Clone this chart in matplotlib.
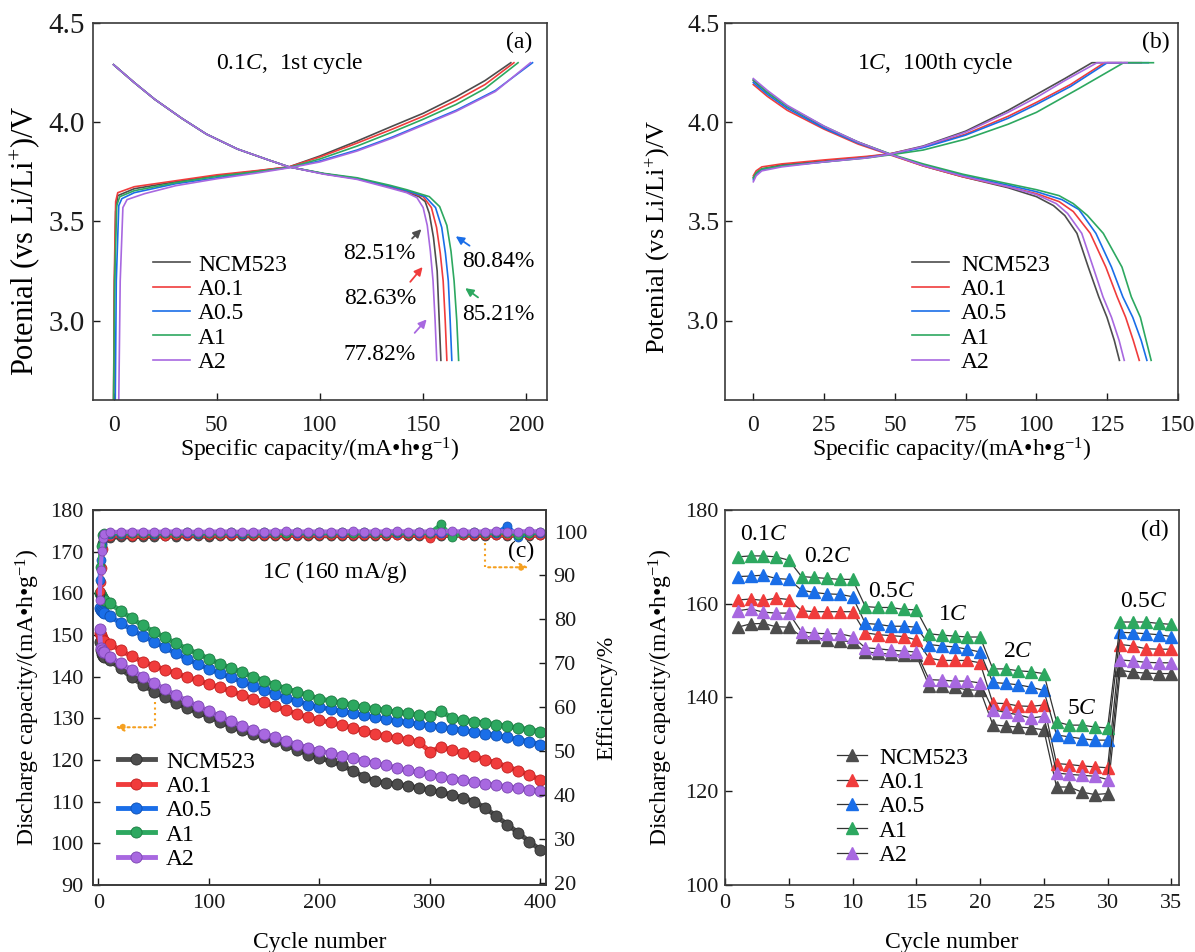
import matplotlib
matplotlib.use('Agg')
import matplotlib.pyplot as plt

plt.rcParams['font.family'] = ['Liberation Serif', 'DejaVu Serif']
plt.rcParams['mathtext.fontset'] = 'custom'
plt.rcParams['mathtext.rm'] = 'Liberation Serif'
plt.rcParams['mathtext.it'] = 'Liberation Serif:italic'
plt.rcParams['font.size'] = 17

names = ['NCM523', 'A0.1', 'A0.5', 'A1', 'A2']
colors = ['#4d4d4d', '#f03c3c', '#1a6ee8', '#2da860', '#a868e0']
edge_colors = ['#2e2e2e', '#c02020', '#0f4fb0', '#1c7a42', '#7a44b0']

# ---- (a) 0.1C 1st cycle: charge / discharge curves
a_chg_x = [
    [0, 0.3, 1, 2, 10, 30, 50, 70, 85, 100, 118, 135, 150, 166, 180, 192.5],
    [0, 0.3, 1, 2, 10, 30, 50, 70, 85, 100, 118, 135, 150, 166, 180, 194],
    [0.8, 1.3, 2.5, 4, 10, 30, 50, 70, 85, 100, 118, 135, 150, 166, 185, 203],
    [0, 0.5, 1.5, 3, 10, 30, 50, 70, 85, 100, 118, 135, 150, 166, 180, 196],
    [2.5, 3.2, 4.5, 6.5, 15, 30, 50, 70, 85, 100, 118, 135, 150, 166, 185, 202],
]
a_chg_y = [
    [2.6, 3.1, 3.55, 3.63, 3.665, 3.70, 3.73, 3.755, 3.775, 3.83, 3.905, 3.98, 4.045, 4.128, 4.21, 4.30],
    [2.6, 3.2, 3.6, 3.645, 3.675, 3.705, 3.735, 3.757, 3.775, 3.825, 3.895, 3.965, 4.03, 4.11, 4.19, 4.30],
    [2.6, 3.2, 3.58, 3.615, 3.645, 3.69, 3.72, 3.75, 3.772, 3.805, 3.86, 3.925, 3.99, 4.06, 4.16, 4.30],
    [2.6, 3.2, 3.58, 3.625, 3.655, 3.695, 3.727, 3.752, 3.772, 3.815, 3.88, 3.95, 4.015, 4.09, 4.17, 4.30],
    [2.6, 3.2, 3.57, 3.61, 3.64, 3.68, 3.715, 3.745, 3.77, 3.80, 3.855, 3.92, 3.985, 4.055, 4.155, 4.30],
]
a_dis_x = [
    [0, 5, 10, 20, 33, 45, 60, 75, 85, 102, 118, 134, 142, 148, 151, 153, 155, 156.8, 157.8, 158.6],
    [0, 5, 10, 20, 33, 45, 60, 75, 85, 102, 118, 134, 142, 150, 154, 156.5, 158.3, 159.7, 160.7, 161.5],
    [0, 5, 10, 20, 33, 45, 60, 75, 85, 102, 118, 134, 142, 151, 156, 159, 160.8, 162.2, 163.1, 163.9],
    [0, 5, 10, 20, 33, 45, 60, 75, 85, 102, 118, 134, 142, 153, 158, 161.5, 163.5, 165, 166.3, 167.2],
    [0, 5, 10, 20, 33, 45, 60, 75, 85, 102, 118, 134, 142, 147, 150, 152, 153.5, 154.8, 155.8, 156.6],
]
a_dis_y = [
    [4.29, 4.245, 4.20, 4.115, 4.02, 3.94, 3.865, 3.81, 3.775, 3.74, 3.715, 3.673, 3.648, 3.625, 3.60, 3.54, 3.42, 3.25, 3.0, 2.8],
    [4.29, 4.245, 4.20, 4.115, 4.02, 3.94, 3.865, 3.81, 3.775, 3.74, 3.716, 3.676, 3.652, 3.625, 3.57, 3.47, 3.34, 3.2, 3.0, 2.8],
    [4.29, 4.245, 4.20, 4.115, 4.02, 3.94, 3.865, 3.81, 3.775, 3.74, 3.717, 3.678, 3.655, 3.625, 3.57, 3.47, 3.34, 3.2, 3.0, 2.8],
    [4.29, 4.245, 4.20, 4.115, 4.02, 3.94, 3.865, 3.81, 3.775, 3.742, 3.72, 3.682, 3.66, 3.625, 3.575, 3.48, 3.35, 3.2, 3.0, 2.8],
    [4.29, 4.245, 4.20, 4.115, 4.02, 3.94, 3.865, 3.81, 3.775, 3.738, 3.712, 3.668, 3.645, 3.62, 3.57, 3.48, 3.35, 3.2, 3.0, 2.8],
]
a_pct = ['82.51%', '82.63%', '77.82%', '80.84%', '85.21%']

# ---- (b) 1C 100th cycle
b_chg_x = [
    [0, 1, 3, 10, 25, 40, 48, 60, 75, 90, 100, 110, 119.6, 130],
    [0, 1, 3, 10, 25, 40, 48, 60, 75, 90, 100, 112, 124, 137],
    [0, 1, 3, 10, 25, 40, 48, 60, 75, 90, 100, 112, 125, 139.5],
    [0, 1, 3, 10, 25, 40, 48, 60, 75, 90, 100, 115, 130.8, 141.3],
    [0, 1, 3, 10, 25, 40, 48, 60, 75, 90, 100, 110, 121.4, 132],
]
b_chg_y = [
    [3.72, 3.745, 3.765, 3.785, 3.805, 3.825, 3.84, 3.88, 3.955, 4.06, 4.14, 4.22, 4.30, 4.30],
    [3.73, 3.755, 3.775, 3.79, 3.81, 3.828, 3.84, 3.875, 3.94, 4.03, 4.10, 4.19, 4.30, 4.30],
    [3.71, 3.74, 3.76, 3.78, 3.80, 3.822, 3.838, 3.872, 3.935, 4.02, 4.09, 4.18, 4.30, 4.30],
    [3.72, 3.745, 3.765, 3.78, 3.80, 3.82, 3.835, 3.86, 3.915, 3.99, 4.05, 4.17, 4.30, 4.30],
    [3.70, 3.73, 3.755, 3.775, 3.80, 3.82, 3.838, 3.878, 3.95, 4.05, 4.125, 4.21, 4.30, 4.30],
]
b_dis_x = [
    [0, 5, 12, 25, 37, 48.4, 60, 74, 90, 100, 106, 110, 114.3, 118.3, 122, 124.9, 127.5, 129.3],
    [0, 5, 12, 25, 37, 48.4, 60, 74, 90, 100, 108, 113, 119, 124.5, 128.5, 131.5, 134.2, 136.3],
    [0, 5, 12, 25, 37, 48.4, 60, 74, 90, 100, 109, 115, 121, 126.5, 130.5, 134, 137, 139],
    [0, 5, 12, 25, 37, 48.4, 60, 74, 90, 100, 108, 113, 118, 123.6, 130.2, 133.5, 136.7, 140.5],
    [0, 5, 12, 25, 37, 48.4, 60, 74, 90, 100, 107, 111, 116, 120, 123.5, 126.5, 129.2, 131],
]
b_dis_y = [
    [4.21, 4.15, 4.08, 3.975, 3.90, 3.838, 3.78, 3.725, 3.67, 3.625, 3.58, 3.53, 3.44, 3.27, 3.12, 3.017, 2.90, 2.80],
    [4.19, 4.13, 4.06, 3.965, 3.89, 3.835, 3.78, 3.725, 3.675, 3.64, 3.60, 3.55, 3.44, 3.27, 3.12, 3.017, 2.90, 2.80],
    [4.20, 4.14, 4.07, 3.97, 3.895, 3.838, 3.785, 3.732, 3.683, 3.65, 3.61, 3.56, 3.44, 3.27, 3.12, 3.017, 2.90, 2.80],
    [4.215, 4.15, 4.08, 3.98, 3.90, 3.84, 3.79, 3.738, 3.69, 3.66, 3.63, 3.59, 3.53, 3.44, 3.27, 3.12, 3.017, 2.80],
    [4.22, 4.16, 4.085, 3.98, 3.90, 3.838, 3.782, 3.728, 3.675, 3.635, 3.59, 3.54, 3.44, 3.27, 3.12, 3.017, 2.90, 2.80],
]

# ---- (c) cycling at 1C
c_cycles = [1, 2, 3, 4, 5] + list(range(10, 401, 10))
c_cap = [
    [148.4, 146.5, 145.5, 145.0, 144.6,
     143.9, 142.0, 139.8, 138.0, 136.4, 135.0, 133.7, 132.5, 131.4, 130.4,
     129.2, 128.0, 127.1, 126.2, 125.4, 124.6, 123.6, 122.4, 121.3, 120.5,
     119.7, 118.8, 117.4, 116.0, 115.0, 114.5, 114.2, 113.8, 113.3, 112.8,
     112.3, 111.6, 110.9, 110.0, 108.5, 106.5, 104.5, 102.5, 100.4, 98.4],
    [150.5, 150.0, 149.3, 148.8, 148.5,
     147.9, 146.3, 144.9, 143.6, 142.6, 141.7, 140.8, 139.9, 139.1, 138.2,
     137.4, 136.5, 135.6, 134.7, 133.8, 132.9, 131.9, 131.0, 130.2, 129.6,
     129.0, 128.4, 127.7, 127.0, 126.3, 125.8, 125.3, 124.9, 124.3, 122.0,
     123.1, 122.4, 121.6, 120.9, 120.1, 119.3, 118.4, 117.4, 116.4, 115.2],
    [156.5, 156.0, 155.7, 155.5, 155.3,
     154.5, 152.9, 151.3, 149.8, 148.4, 147.0, 145.6, 144.3, 143.0, 141.9,
     140.8, 139.8, 138.8, 137.8, 136.8, 135.8, 134.9, 134.1, 133.3, 132.7,
     132.2, 131.7, 131.2, 130.7, 130.2, 129.8, 129.4, 129.0, 128.6, 128.2,
     127.9, 127.5, 127.1, 126.7, 126.3, 125.9, 125.4, 124.9, 124.4, 123.7],
    [160.0, 159.5, 159.0, 158.7, 158.5,
     157.6, 155.8, 154.0, 152.3, 150.8, 149.4, 148.0, 146.7, 145.5, 144.3,
     143.1, 142.0, 141.0, 140.0, 139.0, 138.0, 137.1, 136.3, 135.5, 134.7,
     134.2, 133.7, 133.2, 132.7, 132.3, 131.9, 131.5, 131.2, 130.8, 130.5,
     131.8, 130.0, 129.6, 129.2, 128.9, 128.5, 128.1, 127.7, 127.3, 126.8],
    [151.5, 146.8, 146.4, 146.0, 145.8,
     144.8, 143.2, 141.6, 140.0, 138.5, 137.0, 135.6, 134.2, 132.9, 131.7,
     130.5, 129.3, 128.2, 127.2, 126.3, 125.4, 124.5, 123.7, 122.9, 122.2,
     121.6, 121.0, 120.4, 119.8, 119.2, 118.7, 118.1, 117.5, 117.0, 116.5,
     116.0, 115.5, 115.1, 114.7, 114.3, 113.9, 113.6, 113.2, 112.9, 112.5],
]
c_eff = [
    [85.9, 92.0, 97.5, 98.5, 98.6,
     98.6, 98.7, 98.7, 98.8, 98.8, 98.9, 98.8, 98.9, 98.9, 98.8,
     98.9, 99.0, 98.9, 98.9, 99.0, 98.9, 99.0, 99.0, 98.9, 99.0,
     98.9, 99.0, 99.0, 98.9, 99.0, 99.0, 99.1, 99.0, 99.0, 98.9,
     99.0, 99.0, 99.1, 99.0, 99.0, 99.1, 99.0, 99.1, 99.0, 99.1],
    [86.5, 88.5, 91.6, 96.0, 98.9,
     99.0, 99.1, 99.0, 99.1, 99.1, 99.0, 99.1, 99.2, 99.1, 99.1,
     99.2, 99.1, 99.1, 99.2, 99.1, 99.2, 99.2, 99.1, 99.2, 99.2,
     99.1, 99.2, 99.2, 99.1, 99.2, 99.2, 99.1, 99.2, 99.2, 98.6,
     99.2, 99.1, 99.2, 99.2, 99.1, 99.2, 99.2, 99.1, 99.2, 99.2],
    [89.0, 93.5, 97.0, 99.0, 99.3,
     99.5, 99.5, 99.6, 99.6, 99.5, 99.6, 99.6, 99.6, 99.5, 99.6,
     99.6, 99.6, 99.5, 99.6, 99.6, 99.6, 99.7, 99.6, 99.6, 99.6,
     99.6, 99.7, 99.6, 99.6, 99.6, 99.7, 99.6, 99.6, 99.7, 99.6,
     99.6, 99.7, 99.6, 99.6, 99.7, 99.6, 101.3, 98.8, 99.6, 99.7],
    [92.0, 96.6, 99.3, 99.5, 99.6,
     99.6, 99.7, 99.7, 99.6, 99.7, 99.7, 99.7, 99.8, 99.7, 99.7,
     99.7, 99.8, 99.7, 99.7, 99.8, 99.7, 99.7, 99.8, 99.7, 99.8,
     99.7, 99.8, 99.7, 99.8, 99.7, 99.7, 99.8, 99.7, 99.8, 99.7,
     101.6, 98.8, 99.7, 99.8, 99.7, 99.8, 99.7, 99.3, 99.7, 99.8],
    [84.4, 91.2, 95.5, 98.5, 99.4,
     99.9, 99.9, 100.0, 100.0, 99.9, 100.0, 100.0, 100.0, 99.9, 100.0,
     100.0, 100.0, 99.9, 100.0, 100.0, 100.0, 100.1, 100.0, 100.0, 100.0,
     100.0, 100.0, 100.1, 100.0, 100.0, 100.0, 100.1, 100.0, 100.0, 100.0,
     100.0, 100.1, 100.0, 100.0, 100.0, 100.1, 100.0, 100.0, 100.1, 100.0],
]

# ---- (d) rate capability
d_cycles = list(range(1, 36))
d_cap = [
    [155.0, 155.7, 155.8, 155.1, 155.0, 153.0, 152.9, 152.3, 152.1, 151.9,
     149.7, 149.5, 149.2, 149.0, 149.0, 142.5, 142.4, 142.2, 141.6, 141.6,
     134.2, 133.9, 133.7, 133.5, 133.1, 120.9, 120.9, 119.8, 119.3, 119.5,
     145.8, 145.4, 145.2, 145.1, 145.1],
    [160.8, 161.0, 160.7, 161.2, 160.9, 158.5, 158.3, 158.3, 158.3, 158.3,
     153.8, 153.4, 153.2, 153.0, 152.3, 148.4, 147.9, 147.9, 147.9, 147.4,
     138.8, 138.7, 138.2, 138.1, 138.4, 125.9, 125.7, 125.4, 125.2, 125.0,
     151.3, 151.0, 150.4, 150.3, 150.3],
    [165.8, 165.9, 166.1, 165.4, 165.2, 162.9, 162.4, 162.1, 162.0, 161.5,
     155.8, 155.6, 155.2, 155.2, 155.0, 151.3, 151.0, 150.8, 150.3, 149.7,
     143.2, 143.0, 142.7, 142.2, 141.5, 132.0, 131.6, 131.2, 130.9, 130.9,
     153.9, 153.8, 153.6, 153.4, 153.0],
    [170.0, 170.2, 170.2, 170.0, 169.3, 165.8, 165.6, 165.4, 165.2, 165.2,
     159.4, 159.2, 159.2, 158.8, 158.7, 153.6, 153.3, 153.1, 152.9, 152.9,
     146.1, 146.1, 145.7, 145.5, 145.1, 134.8, 134.1, 134.1, 133.7, 133.5,
     156.1, 156.1, 156.1, 155.8, 155.6],
    [158.5, 158.9, 158.2, 158.0, 158.0, 154.0, 153.7, 153.6, 153.6, 153.0,
     150.6, 150.4, 150.1, 149.9, 149.7, 143.8, 143.7, 143.5, 143.5, 143.1,
     137.4, 136.8, 136.3, 135.6, 136.0, 123.9, 123.6, 123.4, 123.2, 122.5,
     148.0, 147.8, 147.5, 147.4, 147.4],
]
d_rates = ['0.1', '0.2', '0.5', '1', '2', '5', '0.5']

fig = plt.figure(figsize=(11.95, 9.52), dpi=100)
ax_a = fig.add_axes([0.0778, 0.5798, 0.3799, 0.3960])
ax_b = fig.add_axes([0.6067, 0.5798, 0.3791, 0.3960])
ax_c = fig.add_axes([0.0778, 0.0704, 0.3791, 0.3939])
ax_d = fig.add_axes([0.6067, 0.0704, 0.3799, 0.3939])
ax_c2 = ax_c.twinx()

for ax in [ax_a, ax_b, ax_c, ax_c2, ax_d]:
    for s in ax.spines.values():
        s.set_color('#3a3a3a')
        s.set_linewidth(1.2)
    ax.tick_params(direction='in', length=5, width=1, labelsize=16, colors='#1a1a1a')

# top row: bigger y text, x ticks pushed lower
ax_a.tick_params(axis='y', labelsize=21, pad=5.7)
ax_b.tick_params(axis='y', labelsize=18.5, pad=4)
for ax in [ax_a, ax_b]:
    ax.tick_params(axis='x', labelsize=17, pad=10.5)
ax_c.tick_params(axis='y', pad=6.5)
ax_c2.tick_params(axis='y', pad=5.5)
ax_d.tick_params(axis='y', pad=4.5)
for ax in [ax_c, ax_d]:
    ax.tick_params(axis='x', labelsize=16, pad=6.4)

leg_kw = dict(frameon=False, loc='upper left', borderaxespad=0, borderpad=0,
              labelspacing=0.12, fontsize=17)

# (a)
for i in range(5):
    ax_a.plot(a_chg_x[i], a_chg_y[i], color=colors[i], lw=1.2, label=names[i])
    ax_a.plot(a_dis_x[i], a_dis_y[i], color=colors[i], lw=1.2)
ax_a.set_xlim(-10, 210)
ax_a.set_ylim(2.6, 4.5)
ax_a.set_xticks([0, 50, 100, 150, 200])
ax_a.set_yticks([3.0, 3.5, 4.0, 4.5])
ax_a.set_yticklabels(['3.0', '3.5', '4.0', '4.5'])
ax_a.set_xlabel('Specific capacity/(mA•h•g$^{-1}$)', fontsize=17, labelpad=0)
ax_a.set_ylabel('Potenial (vs Li/Li$^{+}$)/V', fontsize=22)
ax_a.yaxis.set_label_coords(-0.112, 0.422)
ax_a.text(85.4, 4.296, '0.1$\\it{C}$,  1st cycle', ha='center', va='center', fontsize=17)
ax_a.text(196.6, 4.40, '(a)', ha='center', va='center', fontsize=17)
ax_a.text(129, 3.34, a_pct[0], ha='center', va='center', fontsize=17)
ax_a.text(129, 3.11, a_pct[1], ha='center', va='center', fontsize=17)
ax_a.text(129, 2.83, a_pct[2], ha='center', va='center', fontsize=17)
ax_a.text(186.4, 3.30, a_pct[3], ha='center', va='center', fontsize=17)
ax_a.text(186.4, 3.03, a_pct[4], ha='center', va='center', fontsize=17)
arr = [((143.7, 3.404), (150.1, 3.471), colors[0]),
       ((142.9, 3.185), (150.6, 3.281), colors[1]),
       ((145.0, 2.928), (152.6, 3.017), colors[4]),
       ((173.6, 3.370), (164.7, 3.433), colors[2]),
       ((177.7, 3.109), (169.3, 3.172), colors[3])]
for p0, p1, c in arr:
    ax_a.annotate('', xy=p1, xytext=p0,
                  arrowprops=dict(arrowstyle='-|>', color=c, lw=1.3, mutation_scale=12))
ax_a.legend(bbox_to_anchor=(0.132, 0.387), handlelength=1.57, handletextpad=0.34, **leg_kw)

# (b)
for i in range(5):
    ax_b.plot(b_chg_x[i], b_chg_y[i], color=colors[i], lw=1.2, label=names[i])
    ax_b.plot(b_dis_x[i], b_dis_y[i], color=colors[i], lw=1.2)
ax_b.set_xlim(-10, 150)
ax_b.set_ylim(2.6, 4.5)
ax_b.set_xticks([0, 25, 50, 75, 100, 125, 150])
ax_b.set_yticks([3.0, 3.5, 4.0, 4.5])
ax_b.set_yticklabels(['3.0', '3.5', '4.0', '4.5'])
ax_b.set_xlabel('Specific capacity/(mA•h•g$^{-1}$)', fontsize=17, labelpad=0)
ax_b.set_ylabel('Potenial (vs Li/Li$^{+}$)/V', fontsize=19)
ax_b.yaxis.set_label_coords(-0.117, 0.432)
ax_b.text(64, 4.296, '1$\\it{C}$,  100th cycle', ha='center', va='center', fontsize=17)
ax_b.text(142, 4.40, '(b)', ha='center', va='center', fontsize=17)
ax_b.legend(bbox_to_anchor=(0.413, 0.387), handlelength=1.57, handletextpad=0.5, **leg_kw)

# (c)
for i in range(5):
    ax_c.plot(c_cycles, c_cap[i], color=colors[i], lw=3.5, marker='o', ms=8,
              mfc=colors[i], mec=edge_colors[i], mew=0.6, label=names[i])
    ax_c2.plot(c_cycles, c_eff[i], color=colors[i], lw=3, marker='o', ms=6.5,
               mfc=colors[i], mec=edge_colors[i], mew=0.5)
ax_c.set_xlim(-5, 405)
ax_c.set_ylim(90, 180)
ax_c2.set_ylim(19.6, 104.9)
ax_c.set_xticks([0, 100, 200, 300, 400])
ax_c.set_yticks(range(90, 181, 10))
ax_c2.set_yticks(range(20, 101, 10))
ax_c.set_xlabel('Cycle number', fontsize=17, labelpad=14)
ax_c.set_ylabel('Discharge capacity/(mA•h•g$^{-1}$)', fontsize=17, labelpad=6)
ax_c2.set_ylabel('Efficiency/%', fontsize=17, labelpad=7)
ax_c.text(213.6, 165.2, '1$\\it{C}$ (160 mA/g)', ha='center', va='center', fontsize=17)
ax_c.text(382.5, 170.0, '(c)', ha='center', va='center', fontsize=17)
orange = '#f5a020'
ax_c.plot([350.2, 350.2], [172.0, 166.25], color=orange, ls=':', lw=1.5)
ax_c.annotate('', xy=(391.6, 166.25), xytext=(350.2, 166.25),
              arrowprops=dict(arrowstyle='-|>', color=orange, lw=1.5, ls=':', mutation_scale=12))
ax_c.plot([50.7, 50.7], [134.0, 127.85], color=orange, ls=':', lw=1.5)
ax_c.annotate('', xy=(12.9, 127.85), xytext=(50.7, 127.85),
              arrowprops=dict(arrowstyle='-|>', color=orange, lw=1.5, ls=':', mutation_scale=12))
ax_c.legend(bbox_to_anchor=(0.055, 0.357), handlelength=1.57, handletextpad=0.47,
            numpoints=1, **leg_kw)

# (d)
for i in range(5):
    ax_d.plot(d_cycles, d_cap[i], color='#333333', lw=0.9, marker='^', ms=8,
              mfc=colors[i], mec=colors[i], label=names[i])
ax_d.set_xlim(0, 35.6)
ax_d.set_ylim(100, 180)
ax_d.set_xticks(range(0, 36, 5))
ax_d.set_yticks(range(100, 181, 20))
ax_d.set_xlabel('Cycle number', fontsize=17, labelpad=14)
ax_d.set_ylabel('Discharge capacity/(mA•h•g$^{-1}$)', fontsize=17, labelpad=7.5)
d_lab_pos = [(3.07, 174.7), (8.03, 170.0), (13.1, 162.7), (17.9, 157.6),
             (23.0, 149.8), (28.0, 137.7), (32.8, 160.5)]
for r, (px, py) in zip(d_rates, d_lab_pos):
    ax_d.text(px, py, r + '$\\it{C}$', ha='center', va='center', fontsize=17)
ax_d.text(33.7, 175.7, '(d)', ha='center', va='center', fontsize=17)
ax_d.legend(bbox_to_anchor=(0.247, 0.368), handlelength=1.27, handletextpad=0.5,
            numpoints=1, **leg_kw)

fig.savefig('out.png', dpi=100)
